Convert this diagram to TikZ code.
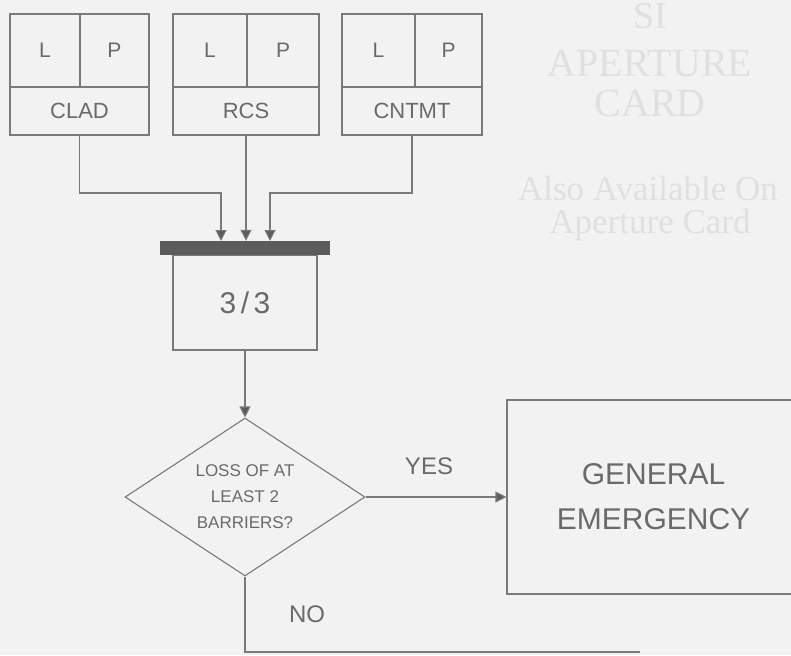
\documentclass[tikz,border=0pt]{standalone}
\usepackage{fontspec}
\setmainfont{Liberation Sans}
\newfontfamily\wmfont{Liberation Serif}
\usetikzlibrary{shapes.geometric,arrows.meta}
\definecolor{bg}{HTML}{F2F2F2}
\definecolor{ln}{HTML}{7A7A7A}
\definecolor{tx}{HTML}{6A6A6A}
\definecolor{wm}{HTML}{E0E0E0}
\definecolor{barc}{HTML}{5C5C5C}
\newcommand\fsz[2]{\fontsize{#1}{#2}\selectfont}
\begin{document}
\begin{tikzpicture}[x=1pt,y=-1pt,
  boxline/.style={draw=ln, line width=1.1pt, inner sep=0pt, text=tx},
  cell/.style={boxline, font=\fsz{21}{24}, minimum height=73pt},
  namecell/.style={boxline, font=\fsz{22}{26}, minimum height=48pt},
  conn/.style={draw=ln, line width=1.1pt},
  arr/.style={conn, -{Triangle[width=11pt,length=11pt,fill=barc]}},
  lbl/.style={text=tx, font=\fsz{24}{28}, inner sep=0pt},
  wmtext/.style={text=wm, inner sep=0pt, anchor=base}]
\fill[bg] (0,0) rectangle (791,655);
\useasboundingbox (0,0) rectangle (791,655);

% watermark
\node[wmtext, font=\wmfont\fsz{38}{44}] (wm1) at (650,29) {SI};
\node[wmtext, font=\wmfont\fsz{40}{44}] (wm2) at (650,77) {APERTURE};
\node[wmtext, font=\wmfont\fsz{40}{44}] (wm3) at (650,117) {CARD};
\node[wmtext, font=\wmfont\fsz{35}{40}] (wm4) at (648,200) {Also Available On};
\node[wmtext, font=\wmfont\fsz{35}{40}] (wm5) at (650,233) {Aperture Card};

% input boxes
\node[cell, minimum width=70pt] (cladL) at (45,50.5) {L};
\node[cell, minimum width=69pt] (cladP) at (114.5,50.5) {P};
\node[namecell, minimum width=139pt] (clad) at (79.5,111) {CLAD};

\node[cell, minimum width=74pt] (rcsL) at (210,50.5) {L};
\node[cell, minimum width=72pt] (rcsP) at (283,50.5) {P};
\node[namecell, minimum width=146pt] (rcs) at (246,111) {RCS};

\node[cell, minimum width=73pt] (cntL) at (378.5,50.5) {L};
\node[cell, minimum width=67pt] (cntP) at (448.5,50.5) {P};
\node[namecell, minimum width=140pt] (cnt) at (412,111) {CNTMT};

% voting box and bar
\node[boxline, minimum width=144pt, minimum height=95pt, font=\fsz{30}{34}] (vote) at (245,302.5) {3\hspace{0.15em}/\hspace{0.15em}3};
\node[fill=barc, draw=none, minimum width=170pt, minimum height=14pt, inner sep=0pt] (bar) at (245,248) {};

\coordinate (m1) at (221,193);
\coordinate (in1) at (221,241);
\coordinate (m3) at (270,193);
\coordinate (in3) at (270,241);
\draw[arr] (clad.south) |- (m1) -- (in1);
\draw[arr] (rcs.south) -- (rcs.south |- bar.north);
\draw[arr] (cnt.south) |- (m3) -- (in3);

% decision
\node[diamond, boxline, aspect=1.5, minimum width=240pt, minimum height=158pt, align=center, font=\fsz{17}{26}] (dia) at (245,497) {LOSS OF AT\\LEAST 2\\BARRIERS?};
\draw[arr] (vote.south) -- (dia.north);

% general emergency
\node[boxline, minimum width=293pt, minimum height=194pt, align=center, font=\fsz{30}{45}] (ge) at (653.5,497) {GENERAL\\EMERGENCY};
\draw[arr] (dia.east) -- (ge.west);
\node[lbl] (yes) at (429,466) {YES};

% NO branch
\coordinate (nc) at (245,652);
\coordinate (ne) at (640,652);
\draw[conn] (dia.south) -- (nc) -- (ne);
\node[lbl] (no) at (307,614) {NO};
\end{tikzpicture}
\end{document}
